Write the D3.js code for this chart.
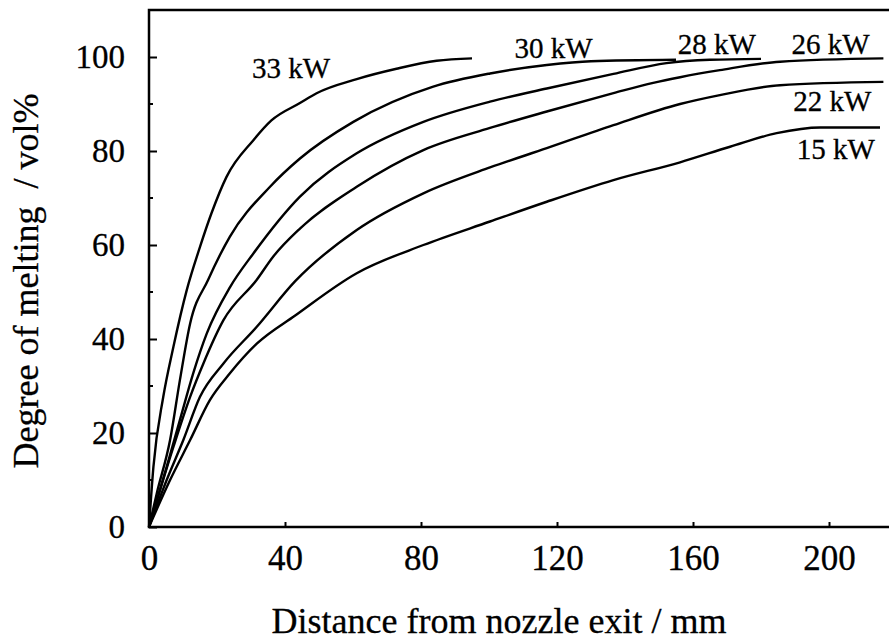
<!DOCTYPE html>
<html>
<head>
<meta charset="utf-8">
<script src="https://cdn.jsdelivr.net/npm/d3@7"></script>
<style>
  body { margin: 0; background: #fff; }
  svg { display: block; }
  text { font-family: "Liberation Serif", "Times New Roman", serif; fill: #000; stroke: #000; stroke-width: 0.3px; }
</style>
</head>
<body>
<div id="chart"></div>
<script>
// series: [distance mm, degree of melting vol%]
var melt33 = [[0,0],[1.3,12.8],[4.2,27.7],[7.2,38.4],[11.1,50.4],[15,59.6],[18.4,66.8],[22.8,74.5],[30.7,82.3],[36,86.5],[44.4,90.2],[49.3,92.3],[61.1,95.3],[72.8,97.5],[84.6,99.2],[95,99.7]];
var melt30 = [[0,0],[2.3,7.2],[6.2,18.5],[9.1,31.3],[12.1,43.3],[17.4,52.6],[23.8,61.8],[35.6,72.4],[44.4,78.4],[60.1,86.2],[83.6,93.7],[100.3,96.5],[117,98.3],[130,99.1],[155,99.4]];
var melt28 = [[0,0],[5.2,12.8],[9.1,22.8],[13,32.7],[17,41.2],[23.8,51],[30.7,58.2],[44.4,70.3],[61.1,79.5],[80.7,86.2],[100.3,90.5],[117,93.3],[136.6,96.4],[152.2,98.7],[165,99.4],[180,99.6]];
var melt26 = [[0,0],[7.2,17.1],[12.1,27.7],[16,34.8],[21.9,44],[31.7,52.6],[36.5,57.5],[44.4,63.5],[61.1,72.4],[80.7,80.2],[100.3,84.9],[117,88.4],[136.6,92.3],[148.3,94.5],[156.2,95.7],[167.9,97.2],[185.6,99],[216,99.7]];
var melt22 = [[0,0],[5.2,10],[10.1,18.5],[15,27.7],[21.9,34.8],[31.7,42.6],[43,52.3],[61.1,63.2],[80.7,71],[100.3,76.5],[117,80.6],[136.6,85.5],[156.2,90],[167.9,91.9],[185.6,94],[216,94.7]];
var melt15 = [[0,0],[6.2,10],[12.1,18.5],[17.9,27],[23.8,32.7],[31.7,39],[43,45],[61.1,54],[80.7,60],[100.3,65],[117,69.2],[136.6,73.8],[156.2,77.6],[170.9,80.9],[184.6,83.8],[197.4,85],[215,85]];

var powerLabels = ["33 kW", "30 kW", "28 kW", "26 kW", "22 kW", "15 kW"];
var xTicks = [0, 40, 80, 120, 160, 200];
var yTicks = [0, 20, 40, 60, 80, 100];
var yMinorTicks = [10, 30, 50, 70, 90];

var allSeries = [melt33, melt30, melt28, melt26, melt22, melt15];

// label anchor points in data units (x start, y baseline)
var labelPos = [[30.3, 95.6], [107.5, 99.8], [155.5, 100.6], [189, 100.6], [189.5, 88.6], [190.5, 78.2]];

var width = 889, height = 640;
var margin = { left: 149, top: 10 };

var x = d3.scaleLinear().domain([0, 218]).range([margin.left, margin.left + 218 * 3.4]);
var y = d3.scaleLinear().domain([0, 100]).range([527, 57]);

var svg = d3.select("#chart").append("svg")
  .attr("width", width)
  .attr("height", height);

// frame
svg.append("path")
  .attr("d", "M" + width + "," + margin.top + "H" + x(0) + "V" + y(0) + "H" + width)
  .attr("fill", "none")
  .attr("stroke", "#000")
  .attr("stroke-width", 2.5);

// y axis ticks (inward) + labels
var yAxis = d3.axisLeft(y).tickValues(yTicks).tickSize(-8).tickPadding(24).tickFormat(d3.format("d"));
var gy = svg.append("g").attr("transform", "translate(" + x(0) + ",0)").call(yAxis);
gy.select(".domain").remove();
gy.selectAll(".tick line").attr("stroke-width", 2);
gy.selectAll(".tick text").style("font-size", "33px");

svg.append("g").selectAll("line")
  .data(yMinorTicks)
  .enter().append("line")
  .attr("x1", x(0)).attr("x2", x(0) + 4)
  .attr("y1", function (d) { return y(d); })
  .attr("y2", function (d) { return y(d); })
  .attr("stroke", "#000").attr("stroke-width", 2);

// x axis ticks (inward) + labels
var xAxis = d3.axisBottom(x).tickValues(xTicks).tickSize(-5).tickPadding(18).tickFormat(d3.format("d"));
var gx = svg.append("g").attr("transform", "translate(0," + y(0) + ")").call(xAxis);
gx.select(".domain").remove();
gx.selectAll(".tick line").attr("stroke-width", 2);
gx.selectAll(".tick text").style("font-size", "35px");

// curves
var line = d3.line()
  .x(function (d) { return x(d[0]); })
  .y(function (d) { return y(d[1]); })
  .curve(d3.curveMonotoneX);

svg.append("g").selectAll("path")
  .data(allSeries)
  .enter().append("path")
  .attr("d", line)
  .attr("fill", "none")
  .attr("stroke", "#000")
  .attr("stroke-width", 2.4);

// series labels
svg.append("g").selectAll("text")
  .data(powerLabels)
  .enter().append("text")
  .attr("x", function (d, i) { return x(labelPos[i][0]); })
  .attr("y", function (d, i) { return y(labelPos[i][1]); })
  .style("font-size", "29px")
  .text(function (d) { return d; });

// axis titles
svg.append("text")
  .attr("x", 499).attr("y", 633)
  .attr("text-anchor", "middle")
  .style("font-size", "36px")
  .text("Distance from nozzle exit / mm");

svg.append("text")
  .attr("transform", "translate(38,281) rotate(-90)")
  .attr("text-anchor", "middle")
  .style("font-size", "36px")
  .style("white-space", "pre")
  .text("Degree of melting  / vol%");
</script>
</body>
</html>
